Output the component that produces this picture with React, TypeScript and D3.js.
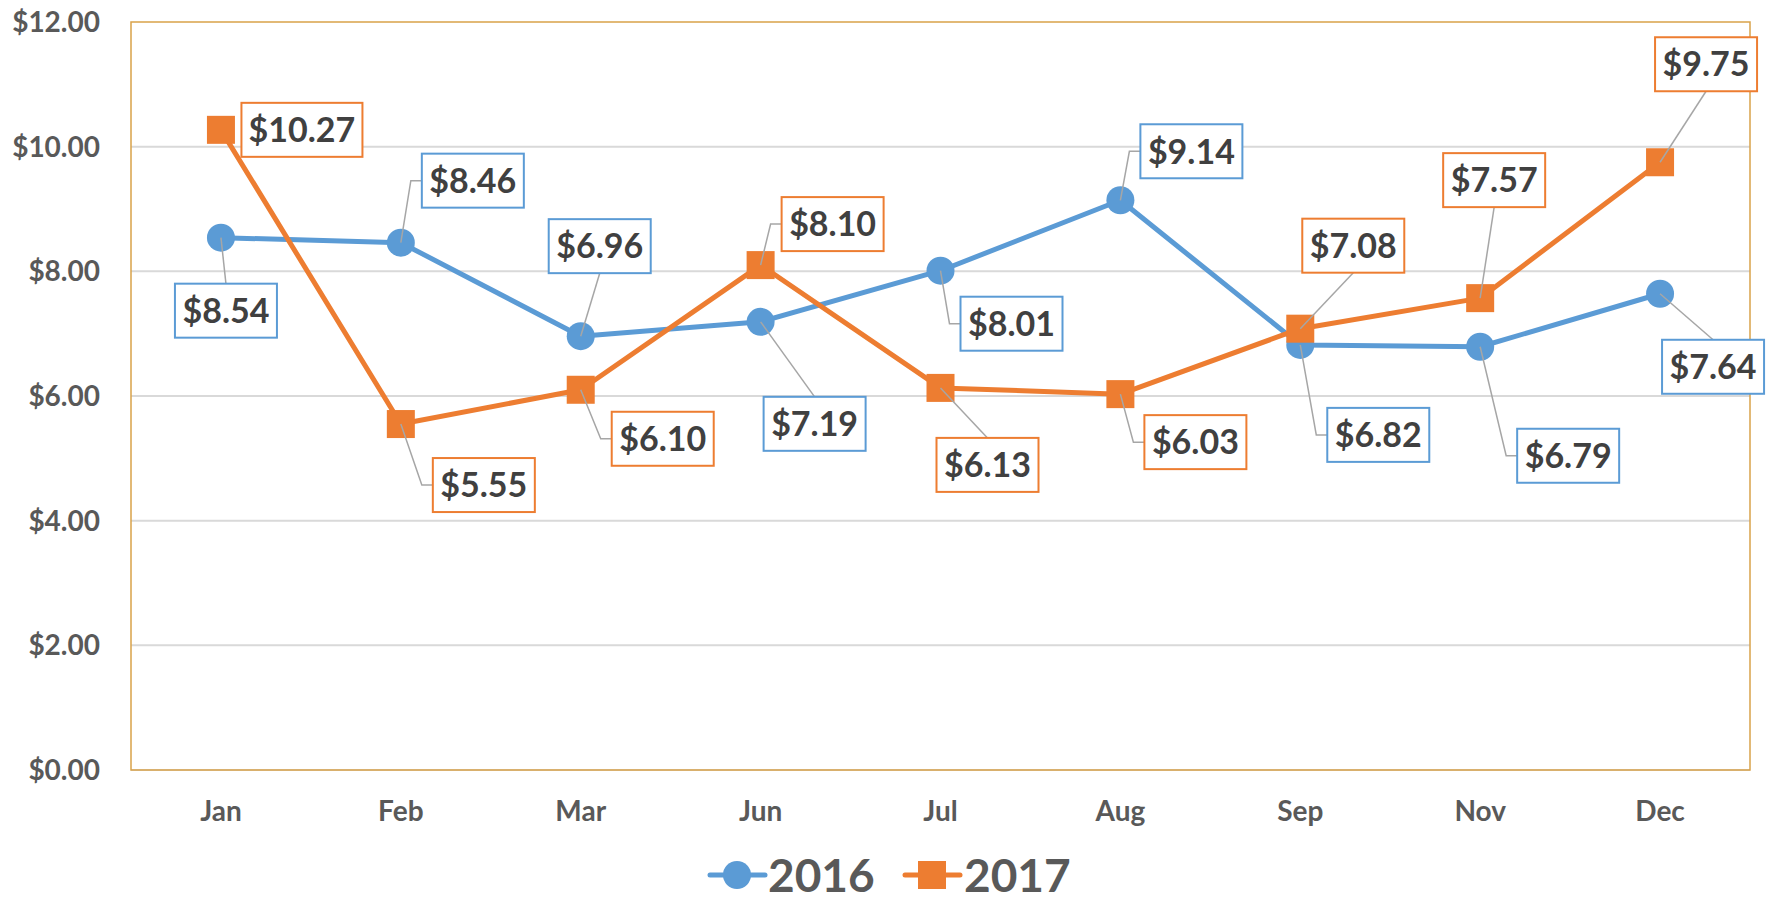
import React from 'react';
import { scaleBand, scaleLinear, line } from 'd3';

const months = ['Jan', 'Feb', 'Mar', 'Jun', 'Jul', 'Aug', 'Sep', 'Nov', 'Dec'];
const values2016 = [8.54, 8.46, 6.96, 7.19, 8.01, 9.14, 6.82, 6.79, 7.64];
const values2017 = [10.27, 5.55, 6.1, 8.1, 6.13, 6.03, 7.08, 7.57, 9.75];
const yTicks = [0, 2, 4, 6, 8, 10, 12];

// label box placement (offset of box centre from the point) and leader style
const offsets2016 = [[5, 73], [72, -62], [19, -90], [54, 102], [71, 53], [71, -49], [78, 90], [88, 109], [53, 73]];
const leaders2016 = ['top', 'left', 'bottom', 'top', 'left', 'left', 'left', 'left', 'top'];
const offsets2017 = [[81, 0], [83, 61], [82, 49], [72, -41], [47, 77], [75, 48], [53, -83], [14, -118], [46, -98]];
const leaders2017 = ['none', 'left', 'left', 'left', 'top', 'left', 'bottom', 'bottom', 'bottom'];

const BLUE = '#5B9BD5';
const ORANGE = '#ED7D31';
const FONT = "Lato, 'Open Sans', sans-serif";

const W = 1770;
const H = 904;
const plot = { left: 131, right: 1750, top: 22, bottom: 770 };

const x = scaleBand<string>().domain(months).range([plot.left, plot.right]).padding(0);
const y = scaleLinear().domain([0, 12]).range([plot.bottom, plot.top]);
const cx = (m: string) => (x(m) as number) + x.bandwidth() / 2;

const fmt = (v: number) => '$' + v.toFixed(2);

function Labels({ values, offsets, leaders, color }: any) {
  return (
    <g>
      {values.map((v: number, i: number) => {
        const px = cx(months[i]);
        const py = y(v);
        const text = fmt(v);
        const bw = text.length > 5 ? 121 : 102;
        const bh = 54;
        const bx = px + offsets[i][0] - bw / 2;
        const by = py + offsets[i][1] - bh / 2;
        let pts: number[][] = [];
        if (leaders[i] === 'left') {
          pts = [[px, py], [bx - 11, by + bh / 2], [bx, by + bh / 2]];
        } else if (leaders[i] === 'top') {
          pts = [[px, py], [bx + bw / 2, by]];
        } else if (leaders[i] === 'bottom') {
          pts = [[px, py], [bx + bw / 2, by + bh]];
        }
        return (
          <g key={i}>
            {pts.length > 0 && (
              <polyline points={pts.map(p => p.join(',')).join(' ')} fill="none" stroke="#A6A6A6" strokeWidth={1.5} />
            )}
            <rect x={bx} y={by} width={bw} height={bh} fill="#fff" stroke={color} strokeWidth={2} />
            <text x={bx + bw / 2} y={by + bh / 2} dy="0.36em" textAnchor="middle" fontFamily={FONT} fontWeight={700} fontSize={34} fill="#404040">
              {text}
            </text>
          </g>
        );
      })}
    </g>
  );
}

export default function App() {
  const lineGen = line<number>()
    .x((_, i) => cx(months[i]))
    .y(d => y(d));

  const legendY = 875;

  return (
    <svg width={W} height={H} style={{ position: 'absolute', left: 0, top: 0, background: '#fff' }}>
      {/* gridlines */}
      {yTicks.filter(t => t > 0 && t < 12).map(t => (
        <line key={t} x1={plot.left} x2={plot.right} y1={y(t)} y2={y(t)} stroke="#D9D9D9" strokeWidth={2} />
      ))}
      <line x1={plot.left} x2={plot.right} y1={y(0)} y2={y(0)} stroke="#D9D9D9" strokeWidth={2} />
      <rect x={plot.left} y={plot.top} width={plot.right - plot.left} height={plot.bottom - plot.top} fill="none" stroke="#D9A24A" strokeWidth={1.5} />

      {/* y axis labels */}
      {yTicks.map(t => (
        <text key={t} x={100} y={y(t)} dy="0.36em" textAnchor="end" fontFamily={FONT} fontWeight={700} fontSize={28} fill="#595959">
          {fmt(t)}
        </text>
      ))}

      {/* x axis labels */}
      {months.map(m => (
        <text key={m} x={cx(m)} y={811} dy="0.36em" textAnchor="middle" fontFamily={FONT} fontWeight={700} fontSize={28} fill="#595959">
          {m}
        </text>
      ))}

      {/* series 2016 */}
      <path d={lineGen(values2016) || ''} fill="none" stroke={BLUE} strokeWidth={5} strokeLinejoin="round" />
      {values2016.map((v, i) => (
        <circle key={i} cx={cx(months[i])} cy={y(v)} r={14} fill={BLUE} />
      ))}

      {/* series 2017 */}
      <path d={lineGen(values2017) || ''} fill="none" stroke={ORANGE} strokeWidth={5} strokeLinejoin="round" />
      {values2017.map((v, i) => (
        <rect key={i} x={cx(months[i]) - 14} y={y(v) - 14} width={28} height={28} fill={ORANGE} />
      ))}

      <Labels values={values2016} offsets={offsets2016} leaders={leaders2016} color={BLUE} />
      <Labels values={values2017} offsets={offsets2017} leaders={leaders2017} color={ORANGE} />

      {/* legend */}
      <g>
        <line x1={710} x2={765} y1={legendY} y2={legendY} stroke={BLUE} strokeWidth={5} strokeLinecap="round" />
        <circle cx={737} cy={legendY} r={14} fill={BLUE} />
        <text x={768} y={legendY} dy="0.36em" fontFamily={FONT} fontWeight={700} fontSize={46} fill="#595959">2016</text>
        <line x1={905} x2={960} y1={legendY} y2={legendY} stroke={ORANGE} strokeWidth={5} strokeLinecap="round" />
        <rect x={918} y={legendY - 14} width={28} height={28} fill={ORANGE} />
        <text x={964} y={legendY} dy="0.36em" fontFamily={FONT} fontWeight={700} fontSize={46} fill="#595959">2017</text>
      </g>
    </svg>
  );
}
